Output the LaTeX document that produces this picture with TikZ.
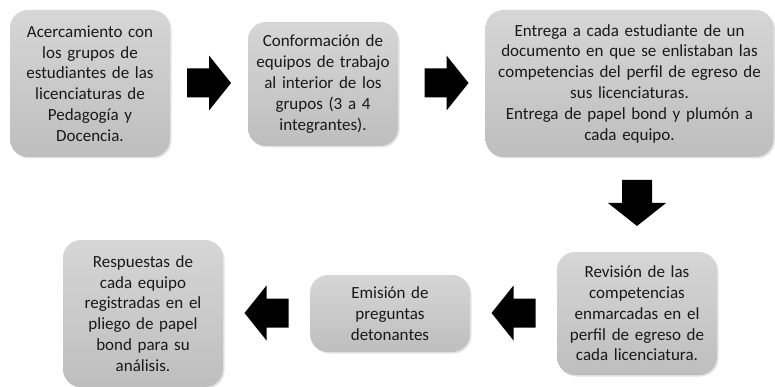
\documentclass[tikz,border=0pt]{standalone}
\usepackage{fontspec}
\setmainfont{Carlito}
\usetikzlibrary{shadows}
\definecolor{boxtop}{RGB}{214,214,214}
\definecolor{boxbot}{RGB}{190,190,190}
\definecolor{txt}{RGB}{25,25,25}
\tikzset{
  stepbox/.style={rectangle, rounded corners=18pt, top color=boxtop, bottom color=boxbot,
    draw=none, align=center, text=txt, inner sep=2pt,
    font=\fontsize{17}{20.8}\selectfont,
    drop shadow={opacity=0.22, shadow xshift=1.5pt, shadow yshift=-1.5pt}},
  blockarrow/.style={fill=black}
}
\newcommand{\rarrow}[1]{\fill[blockarrow] ([shift={(-22,-14.5)}]#1) -- ([shift={(0,-14.5)}]#1) -- ([shift={(0,-27.5)}]#1) -- ([shift={(22,0)}]#1) -- ([shift={(0,27.5)}]#1) -- ([shift={(0,14.5)}]#1) -- ([shift={(-22,14.5)}]#1) -- cycle;}
\newcommand{\larrow}[1]{\fill[blockarrow] ([shift={(22,-14.5)}]#1) -- ([shift={(0,-14.5)}]#1) -- ([shift={(0,-27.5)}]#1) -- ([shift={(-22,0)}]#1) -- ([shift={(0,27.5)}]#1) -- ([shift={(0,14.5)}]#1) -- ([shift={(22,14.5)}]#1) -- cycle;}
\newcommand{\darrow}[1]{\fill[blockarrow] ([shift={(-15,-23)}]#1) -- ([shift={(15,-23)}]#1) -- ([shift={(15,0)}]#1) -- ([shift={(29,0)}]#1) -- ([shift={(0,23)}]#1) -- ([shift={(-29,0)}]#1) -- ([shift={(-15,0)}]#1) -- cycle;}
\begin{document}
\begin{tikzpicture}[x=1pt,y=-1pt]
\useasboundingbox (0,0) rectangle (775,387);
\node[stepbox, minimum width=160pt, minimum height=147pt, text width=156pt] (b1) at (90,83.5)
  {Acercamiento con\\los grupos de\\estudiantes de las\\licenciaturas de\\Pedagogía y\\Docencia.};
\node[stepbox, minimum width=150pt, minimum height=124pt, text width=146pt] (b2) at (323,84)
  {Conformación de\\equipos de trabajo\\al interior de los\\grupos (3 a 4\\integrantes).};
\node[stepbox, minimum width=288pt, minimum height=147pt, text width=284pt] (b3) at (629.5,83.5)
  {Entrega a cada estudiante de un\\documento en que se enlistaban las\\competencias del perfil de egreso de\\sus licenciaturas.\\Entrega de papel bond y plumón a\\cada equipo.};
\node[stepbox, minimum width=160pt, minimum height=123pt, text width=156pt] (b4) at (637,313.5)
  {Revisión de las\\competencias\\enmarcadas en el\\perfil de egreso de\\cada licenciatura.};
\node[stepbox, minimum width=160pt, minimum height=77pt, text width=156pt] (b5) at (390,313.5)
  {Emisión de\\preguntas\\detonantes};
\node[stepbox, minimum width=160pt, minimum height=147pt, text width=156pt] (b6) at (143,313.5)
  {Respuestas de\\cada equipo\\registradas en el\\pliego de papel\\bond para su\\análisis.};
\coordinate (a1) at (209,83);
\coordinate (a2) at (446.5,83);
\coordinate (a3) at (637,203);
\coordinate (a4) at (513.5,313);
\coordinate (a5) at (266.5,313);
\rarrow{a1}
\rarrow{a2}
\darrow{a3}
\larrow{a4}
\larrow{a5}
\end{tikzpicture}
\end{document}
